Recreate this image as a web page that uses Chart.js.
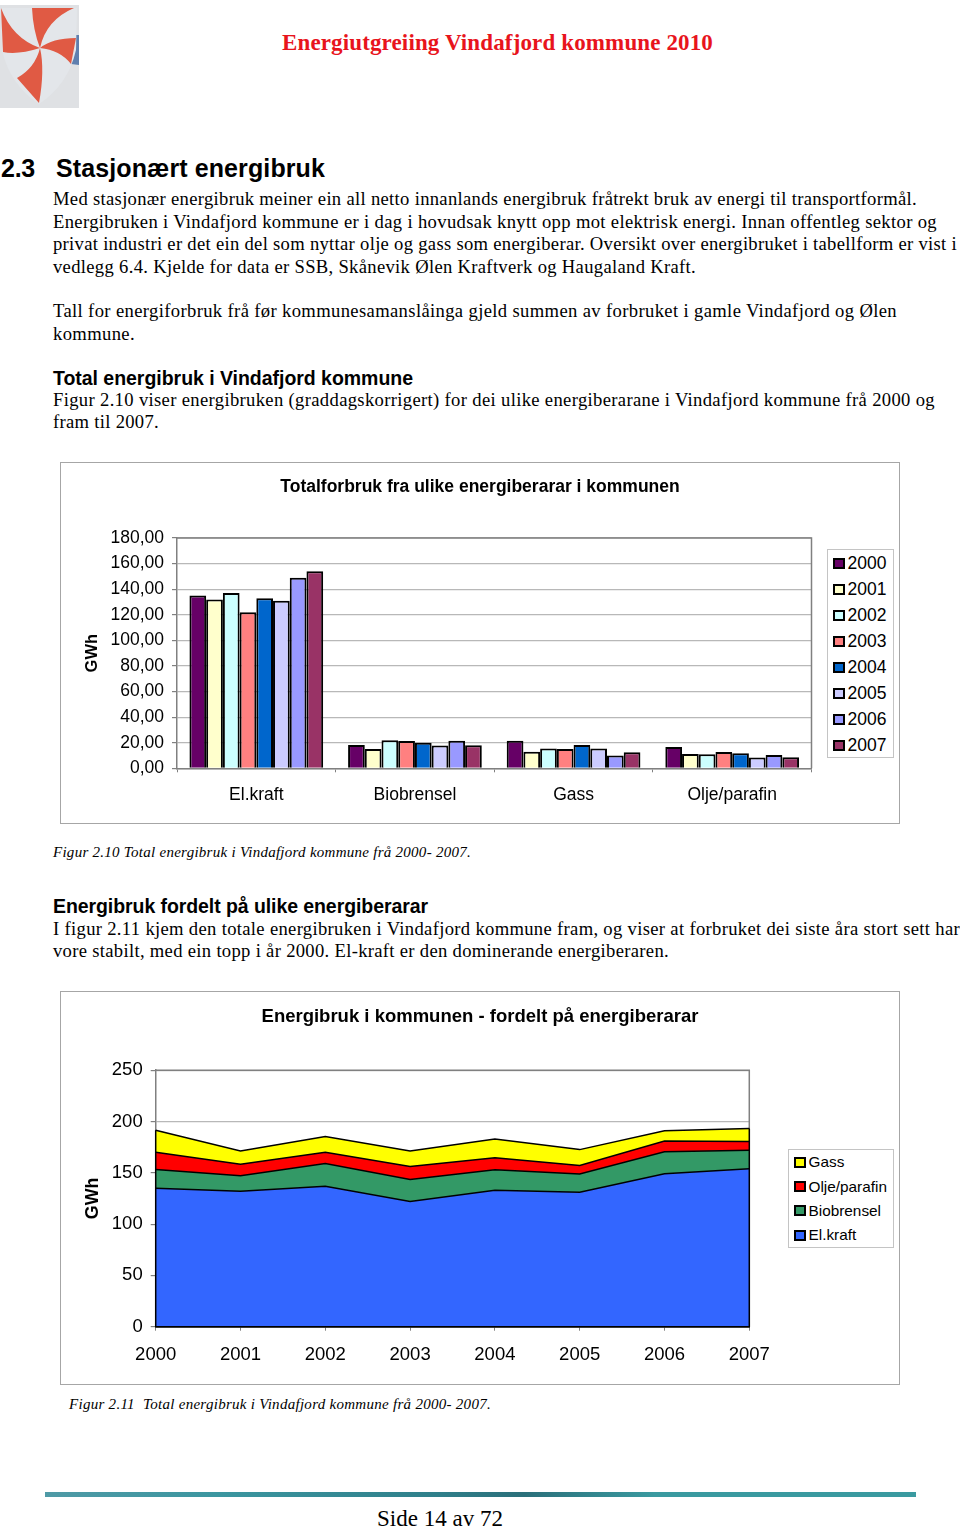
<!DOCTYPE html>
<html><head><meta charset="utf-8">
<script src="https://cdn.jsdelivr.net/npm/chart.js@4"></script>
<style>
html,body{margin:0;padding:0;background:#fff}
#page{position:relative;width:960px;height:1529px;overflow:hidden;color:#000}
.t{position:absolute;white-space:nowrap;font-family:"Liberation Serif",serif;font-size:18.6px;line-height:22px;height:22px}
.h{font-family:"Liberation Sans",sans-serif;font-weight:bold}
.frame{position:absolute;box-sizing:border-box;border:1.5px solid #a6a6a6;background:#fff}
canvas{position:absolute;display:block}
.legend{position:absolute;box-sizing:border-box;border:1px solid #c4c4c4;font-family:"Liberation Sans",sans-serif;color:#000;background:#fff}
.legend div{display:flex;align-items:center;white-space:nowrap}
.legend i{display:block;box-sizing:border-box;width:12px;height:11px;border:2px solid #000;margin-right:2.5px}
</style></head>
<body><div id="page">
<svg style="position:absolute;left:0;top:0" width="80" height="110">
<rect x="0" y="5" width="79" height="103" fill="#dfe1e4"/>
<path d="M73,35 L79,35 L79,65 L71,64Z" fill="#5f7fae"/>
<path d="M1,8 L77,8 L76,50 Q68,85 39,104 Q10,85 2,50Z" fill="#e3e6ea"/>
<path d="M32,8 L74,8 Q46,20 40,48 Q33,30 32,8Z" fill="#e05a44"/>
<path d="M40,48 Q52,38 76,38 L71,64 Q60,50 40,48Z" fill="#e05a44"/>
<path d="M40,48 Q45,70 39,103 L17,78 Q35,68 40,48Z" fill="#e05a44"/>
<path d="M40,48 Q18,55 3,52 L1,8 Q12,38 40,48Z" fill="#e05a44"/>
</svg>
<div class="t" data-w="431" style="left:282px;top:31px;height:24px;line-height:24px;font-size:23px;font-weight:bold;color:#e8141c">Energiutgreiing Vindafjord kommune 2010</div>
<div class="t h" data-w="34" style="left:1px;top:153px;height:30px;line-height:30px;font-size:25px">2.3</div>
<div class="t h" data-w="269" style="left:56px;top:153px;height:30px;line-height:30px;font-size:25px">Stasjonært energibruk</div>
<div class="t" data-w="864" style="left:53px;top:188px">Med stasjonær energibruk meiner ein all netto innanlands energibruk fråtrekt bruk av energi til transportformål.</div>
<div class="t" data-w="884" style="left:53px;top:211px">Energibruken i Vindafjord kommune er i dag i hovudsak knytt opp mot elektrisk energi. Innan offentleg sektor og</div>
<div class="t" data-w="904" style="left:53px;top:233px">privat industri er det ein del som nyttar olje og gass som energiberar. Oversikt over energibruket i tabellform er vist i</div>
<div class="t" data-w="643" style="left:53px;top:255.5px">vedlegg 6.4. Kjelde for data er SSB, Skånevik Ølen Kraftverk og Haugaland Kraft.</div>
<div class="t" data-w="844" style="left:53px;top:300px">Tall for energiforbruk frå før kommunesamanslåinga gjeld summen av forbruket i gamle Vindafjord og Ølen</div>
<div class="t" data-w="82" style="left:53px;top:322.5px">kommune.</div>
<div class="t h" data-w="360" style="left:53px;top:367px;font-size:19.5px">Total energibruk i Vindafjord kommune</div>
<div class="t" data-w="882" style="left:53px;top:389px">Figur 2.10 viser energibruken (graddagskorrigert) for dei ulike energiberarane i Vindafjord kommune frå 2000 og</div>
<div class="t" data-w="106" style="left:53px;top:411px">fram til 2007.</div>

<div class="frame" style="left:60px;top:462px;width:840px;height:362px"></div>
<canvas id="barChart" width="838" height="360" style="left:61px;top:463px"></canvas>
<div id="barLegend" class="legend" style="left:827px;top:549px;width:67px;height:209px;padding:0 0 0 5px;font-size:17.5px"></div>

<div class="t" data-w="418" style="left:53px;top:841px;font-style:italic;font-size:15px">Figur 2.10 Total energibruk i Vindafjord kommune frå 2000- 2007.</div>
<div class="t h" data-w="375" style="left:53px;top:895px;font-size:19.5px">Energibruk fordelt på ulike energiberarar</div>
<div class="t" data-w="907" style="left:53px;top:917.5px">I figur 2.11 kjem den totale energibruken i Vindafjord kommune fram, og viser at forbruket dei siste åra stort sett har</div>
<div class="t" data-w="616" style="left:53px;top:939.5px">vore stabilt, med ein topp i år 2000. El-kraft er den dominerande energiberaren.</div>

<div class="frame" style="left:60px;top:991px;width:840px;height:394px"></div>
<canvas id="areaChart" width="838" height="392" style="left:61px;top:992px"></canvas>
<div id="areaLegend" class="legend" style="left:788px;top:1149px;width:106px;height:99px;padding:0 0 0 5px;font-size:15.35px"></div>

<div class="t" data-w="422" style="left:69px;top:1393px;font-style:italic;font-size:15px">Figur 2.11&nbsp;&nbsp;Total energibruk i Vindafjord kommune frå 2000- 2007.</div>
<div style="position:absolute;left:45px;top:1492px;width:871px;height:5px;background:linear-gradient(90deg,#4f9aa6 0,#3b96a0 20%,#2f7f8a 45%,#2a6f7a 55%,#3a9aa0 70%,#3a9aa0 100%)"></div>
<div class="t" data-w="126" style="left:377px;top:1506px;height:26px;line-height:26px;font-size:23px">Side 14 av 72</div>
</div>
<script>
const years = ["2000","2001","2002","2003","2004","2005","2006","2007"];
const carriers = ["El.kraft","Biobrensel","Gass","Olje/parafin"];
const elkraft    = [135,132,137,122,133,131,149,154];
const biobrensel = [18.3,15.1,22,21.4,20,17.8,21.5,18];
const gass       = [21.5,13,15.4,15.1,18.3,15.4,10,12.5];
const olje       = [16.7,11.2,11,12.8,11.7,8.4,10.4,8.6];
const yearColors = ["#660066","#FFFFCC","#CCFFFF","#FF8080","#0066CC","#CCCCFF","#9999FF","#993366"];
const barTicks = [0,20,40,60,80,100,120,140,160,180];
const areaTicks = [0,50,100,150,200,250];
const barTitle = "Totalforbruk fra ulike energiberarar i kommunen";
const areaTitle = "Energibruk i kommunen - fordelt på energiberarar";
const unit = "GWh";

document.querySelectorAll('[data-w]').forEach(function(el){
  const range=document.createRange();range.selectNodeContents(el);
  const w=range.getBoundingClientRect().width, n=el.textContent.length;
  el.style.letterSpacing=((+el.dataset.w-w)/n)+'px';
});

const SANS='"Liberation Sans", sans-serif';
const framePlugin={id:'plotFrame',beforeDatasetsDraw(c){
  const a=c.chartArea,x=c.ctx;x.save();x.strokeStyle='#808080';x.lineWidth=1.5;
  x.beginPath();x.moveTo(a.left,a.top);x.lineTo(a.right,a.top);x.lineTo(a.right,a.bottom);x.stroke();x.restore();
}};
const edgePlugin={id:'areaEdges',afterDatasetsDraw(c){
  const n=c.data.datasets.length,top=c.getDatasetMeta(n-1).data,a=c.chartArea,x=c.ctx;
  x.save();x.strokeStyle='#000';x.lineWidth=1.5;x.beginPath();
  x.moveTo(top[0].x,top[0].y);x.lineTo(top[0].x,a.bottom);
  x.lineTo(top[top.length-1].x,a.bottom);x.lineTo(top[top.length-1].x,top[top.length-1].y);
  x.stroke();x.restore();
}};
function htmlLegend(chart,id,rowH,reverse){
  const box=document.getElementById(id);
  let items=Chart.defaults.plugins.legend.labels.generateLabels(chart);
  items=items.filter(function(it){return it.text;});
  if(reverse)items=items.reverse();
  items.forEach(function(it){
    const r=document.createElement('div');r.style.height=rowH+'px';
    const s=document.createElement('i');s.style.background=it.fillStyle;
    r.appendChild(s);r.appendChild(document.createTextNode(it.text));box.appendChild(r);
  });
}
function yAxis(maxV,step,width,font,tfont,fmt,tpad,len,tTop){
  return {position:'left',min:0,max:maxV,ticks:{stepSize:step,color:'#000',font:{family:SANS,size:font},padding:tpad,callback:fmt},
    grid:{color:'#b8b8b8',lineWidth:1.2,tickColor:'#808080',tickLength:len},
    border:{color:'#808080',width:1.5},
    title:{display:true,text:unit,color:'#000',font:{family:SANS,size:tfont,weight:'bold'},padding:{top:tTop,bottom:0}},
    afterFit(s){s.width=width;}};
}
function spacerAxis(width){
  return {position:'right',display:true,min:0,max:1,ticks:{display:false},grid:{display:false},border:{display:false},
    afterFit(s){s.width=width;}};
}
new Chart(document.getElementById('barChart'),{
  type:'bar',
  data:{labels:carriers,datasets:years.map(function(y,i){return {
    label:y,data:[elkraft[i],biobrensel[i],gass[i],olje[i]],yAxisID:'y',
    backgroundColor:yearColors[i],borderColor:'#000',borderWidth:2,
    categoryPercentage:0.843,barPercentage:1};})},
  options:{responsive:false,animation:false,
    layout:{padding:0},
    plugins:{legend:{display:false},tooltip:{enabled:false},
      title:{display:true,text:barTitle,color:'#000',font:{family:SANS,size:17.5,weight:'bold'},padding:{top:14,bottom:40}}},
    scales:{
      x:{offset:true,grid:{drawOnChartArea:false,tickColor:'#808080',tickLength:4},border:{color:'#808080',width:1.5},
        ticks:{color:'#000',font:{family:SANS,size:17.5},padding:12,maxRotation:0},
        afterFit(s){s.height=54.7;}},
      y:yAxis(barTicks[barTicks.length-1],barTicks[1],116,17.5,16.5,function(v){return v.toFixed(2).replace('.',',');},8,5,22),
      spacer:spacerAxis(87.5)
    }},
  plugins:[framePlugin]
});
htmlLegend(Chart.getChart('barChart'),'barLegend',26,false);

const stackColors=["#3366FF","#339966","#FF0000","#FFFF00"];
const stackNames=[carriers[0],carriers[1],carriers[3],carriers[2]];
const stackData=[elkraft,biobrensel,olje,gass];
new Chart(document.getElementById('areaChart'),{
  type:'line',
  data:{labels:years,datasets:stackData.map(function(d,i){return {
    label:stackNames[i],data:d,yAxisID:'y',backgroundColor:stackColors[i],borderColor:'#000',borderWidth:1.5,
    fill:i===0?'origin':'-1',pointRadius:0,tension:0,clip:false};})},
  options:{responsive:false,animation:false,
    layout:{padding:0},
    plugins:{legend:{display:false},tooltip:{enabled:false},
      title:{display:true,text:areaTitle,color:'#000',font:{family:SANS,size:18.5,weight:'bold'},padding:{top:14,bottom:42}}},
    scales:{
      x:{offset:false,grid:{drawOnChartArea:false,tickColor:'#808080',tickLength:4},border:{color:'#000',width:1.5},
        ticks:{color:'#000',font:{family:SANS,size:18.5},padding:13,maxRotation:0,autoSkip:false},
        afterFit(s){s.height=57.3;}},
      y:Object.assign(yAxis(areaTicks[areaTicks.length-1],areaTicks[1],94.7,18.5,17.8,function(v){return String(v);},8,5,21),{stacked:true}),
      spacer:spacerAxis(149.7)
    }},
  plugins:[framePlugin,edgePlugin]
});
htmlLegend(Chart.getChart('areaChart'),'areaLegend',24.4,true);
</script>
</body></html>
